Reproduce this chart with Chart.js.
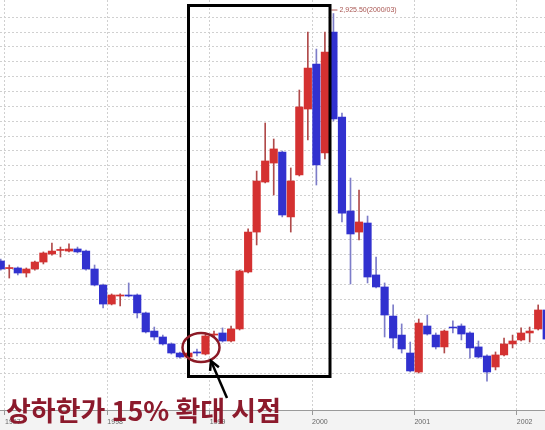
<!DOCTYPE html>
<html>
<head>
<meta charset="utf-8">
<script src="https://cdn.jsdelivr.net/npm/chart.js@4.4.1/dist/chart.umd.min.js"></script>
<style>
  html, body { margin: 0; padding: 0; background: #fff; }
</style>
</head>
<body>
<canvas id="kosdaqChart" width="545" height="430"></canvas>
<script>
// monthly candles, 1996/12 .. 2002/04
const months = [
  "1996/12",
  "1997/01","1997/02","1997/03","1997/04","1997/05","1997/06","1997/07","1997/08","1997/09","1997/10","1997/11","1997/12",
  "1998/01","1998/02","1998/03","1998/04","1998/05","1998/06","1998/07","1998/08","1998/09","1998/10","1998/11","1998/12",
  "1999/01","1999/02","1999/03","1999/04","1999/05","1999/06","1999/07","1999/08","1999/09","1999/10","1999/11","1999/12",
  "2000/01","2000/02","2000/03","2000/04","2000/05","2000/06","2000/07","2000/08","2000/09","2000/10","2000/11","2000/12",
  "2001/01","2001/02","2001/03","2001/04","2001/05","2001/06","2001/07","2001/08","2001/09","2001/10","2001/11","2001/12",
  "2002/01","2002/02","2002/03","2002/04"
];
const openVals = [
  1258,
  1207,1211,1177,1204,1251,1305,1329,1325,1339,1325,1204,1096,
  968,1022,1029,1029,908,786,746,699,638,611,645,631,
  759,773,719,800,1184,1453,1790,1918,1992,1555,1838,2282,
  2585,1986,2801,2228,1595,1453,1514,1164,1083,887,759,638,
  510,820,759,679,813,820,773,679,618,544,625,699,
  726,773,800,928
];
const highVals = [
  1271,
  1231,1218,1211,1258,1319,1379,1352,1373,1352,1332,1231,1103,
  1036,1036,1110,1036,914,813,759,706,645,645,665,773,
  786,807,820,1197,1474,1864,2188,2080,1999,1885,2410,2801,
  2686,2801,2925.5,2255,1817,1736,1561,1285,1110,962,834,712,
  867,894,773,793,854,834,780,719,625,645,739,759,
  807,813,962,941
];
const lowVals = [
  1197,
  1143,1164,1150,1197,1238,1298,1285,1319,1312,1197,1090,941,
  962,955,1016,874,773,726,692,631,604,604,618,625,
  746,712,712,793,1177,1366,1784,1703,1555,1453,1831,2073,
  1770,1945,2201,1521,1103,1400,1110,1076,746,672,638,510,
  503,759,665,638,773,726,604,604,449,524,618,672,
  719,712,793,726
];
const closeVals = [
  1204,
  1214,1177,1204,1251,1312,1325,1336,1339,1319,1204,1096,968,
  1029,1029,1022,908,780,746,699,638,611,638,638,753,
  766,719,800,1191,1453,1797,1932,2013,1568,1797,2296,2558,
  1905,2666,2215,1581,1440,1521,1150,1083,894,739,665,517,
  840,766,679,786,807,766,672,611,510,625,699,719,
  773,786,928,732
];
const yearLabels = ["1997", "1998", "1999", "2000", "2001", "2002"];
const noteText = "상하한가 15% 확대 시점";

const upColor = "#d43131";
const downColor = "#3131cf";
const upWick = "#b04a4a";
const downWick = "#7d7dc9";

const isUp = i => closeVals[i] >= openVals[i];

const wickData = months.map((m, i) => ({ x: i, y: [lowVals[i], highVals[i]] }));
const bodyData = months.map((m, i) => ({ x: i, y: [openVals[i], closeVals[i]] }));

const overlay = {
  id: "overlay",
  beforeDraw(chart) {
    const { ctx, chartArea } = chart;
    ctx.save();
    ctx.fillStyle = "#f3f3f3";
    ctx.fillRect(0, chartArea.bottom, chart.width, chart.height - chartArea.bottom);
    ctx.restore();
  },
  afterDraw(chart) {
    const { ctx } = chart;
    const xs = chart.scales.x;
    const ys = chart.scales.y;
    ctx.save();

    // max label
    let top = 0;
    highVals.forEach((v, i) => { if (v > highVals[top]) top = i; });
    const px = xs.getPixelForValue(top);
    const py = ys.getPixelForValue(highVals[top]) - 4;
    ctx.strokeStyle = "#b05a55";
    ctx.lineWidth = 1;
    ctx.beginPath();
    ctx.moveTo(px - 2, py + 0.5);
    ctx.lineTo(px + 4, py + 0.5);
    ctx.stroke();
    ctx.fillStyle = "#a85450";
    ctx.font = '7px "Liberation Sans"';
    ctx.textBaseline = "middle";
    ctx.fillText(highVals[top].toLocaleString("en-US", { minimumFractionDigits: 2 }) + "(" + months[top] + ")", px + 6, py + 1);

    // box around the rally
    ctx.strokeStyle = "#000";
    ctx.lineWidth = 3;
    ctx.strokeRect(188.5, 5.5, 141.5, 371);

    // circle
    ctx.strokeStyle = "#8c1a26";
    ctx.lineWidth = 2.5;
    ctx.beginPath();
    ctx.ellipse(201, 347.5, 18.5, 14.5, 0, 0, Math.PI * 2);
    ctx.stroke();

    // arrow
    const tx = 211, ty = 361, sx = 227, sy = 398;
    ctx.strokeStyle = "#000";
    ctx.lineWidth = 2.5;
    ctx.beginPath();
    ctx.moveTo(sx, sy);
    ctx.lineTo(tx, ty);
    ctx.stroke();
    const ang = Math.atan2(sy - ty, sx - tx);
    ctx.beginPath();
    ctx.moveTo(tx + 10 * Math.cos(ang - 0.5), ty + 10 * Math.sin(ang - 0.5));
    ctx.lineTo(tx, ty);
    ctx.lineTo(tx + 10 * Math.cos(ang + 0.5), ty + 10 * Math.sin(ang + 0.5));
    ctx.stroke();

    // note
    ctx.fillStyle = "#8c1a2c";
    ctx.font = 'bold 27px "Noto Sans CJK KR"';
    ctx.textBaseline = "alphabetic";
    ctx.fillText(noteText, 6, 421);
    ctx.restore();
  }
};

new Chart(document.getElementById("kosdaqChart"), {
  type: "bar",
  data: {
    datasets: [
      {
        label: "wick",
        data: wickData,
        backgroundColor: months.map((m, i) => isUp(i) ? upWick : downWick),
        barThickness: 1,
        grouped: false,
        order: 2
      },
      {
        label: "body",
        data: bodyData,
        backgroundColor: months.map((m, i) => isUp(i) ? upColor : downColor),
        barThickness: 7.5,
        grouped: false,
        order: 1
      }
    ]
  },
  options: {
    responsive: false,
    animation: false,
    layout: { padding: 0 },
    plugins: {
      legend: { display: false },
      tooltip: { enabled: false }
    },
    scales: {
      x: {
        type: "linear",
        min: -0.086,
        max: 63.8,
        offset: false,
        grid: {
          offset: false,
          color: "#d0d0d0",
          drawTicks: true,
          tickLength: 5,
          tickColor: "#999",
          tickBorderDash: []
        },
        border: { display: true, color: "#9a9a9a", width: 1, dash: [2, 2] },
        afterBuildTicks: scale => {
          scale.ticks = yearLabels.map((y, i) => ({ value: i * 12 + 0.5 }));
        },
        afterFit: scale => { scale.height = 20; },
        ticks: {
          align: "start",
          padding: 3,
          maxRotation: 0,
          autoSkip: false,
          color: "#666",
          font: { family: "Liberation Sans", size: 7 },
          callback: (v, i) => yearLabels[i]
        }
      },
      y: {
        type: "linear",
        min: 254,
        max: 3016.6,
        grid: {
          color: "#d0d0d0",
          drawTicks: false
        },
        border: { display: false, dash: [2, 2] },
        ticks: { display: false, stepSize: 100 },
        afterBuildTicks: scale => {
          scale.ticks = scale.ticks.filter(t => t.value >= 500 && t.value <= 2900 && t.value % 100 === 0);
        },
        afterFit: scale => { scale.width = 0; }
      }
    }
  },
  plugins: [overlay]
});
</script>
</body>
</html>
